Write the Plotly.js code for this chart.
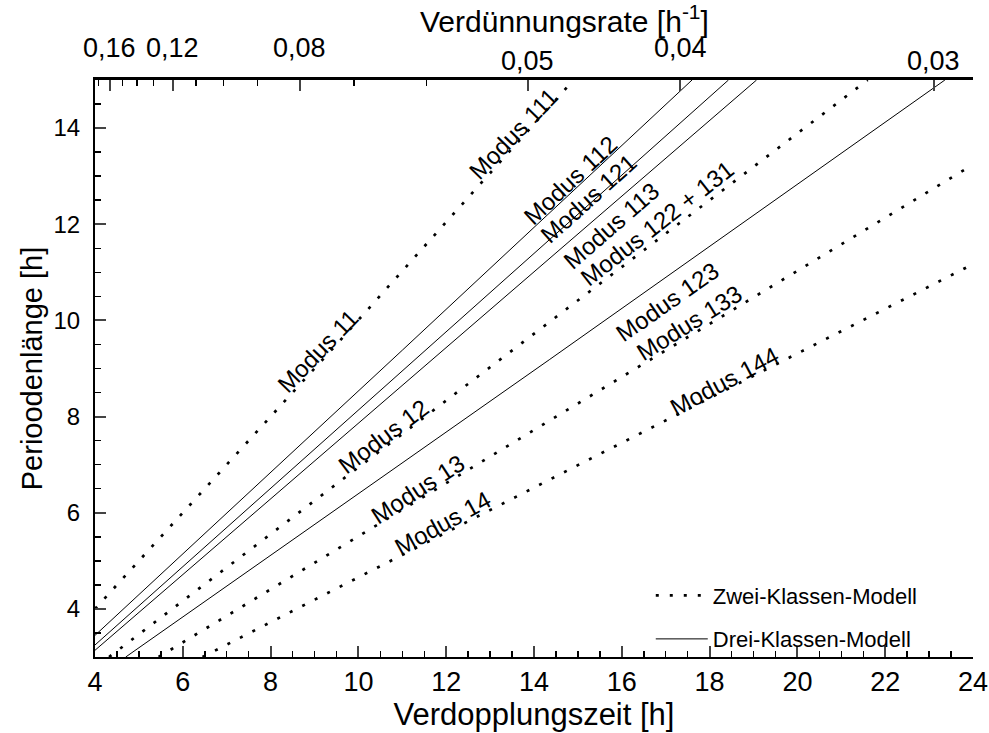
<!DOCTYPE html>
<html><head><meta charset="utf-8">
<script src="https://cdn.plot.ly/plotly-3.0.1.min.js"></script>
<style>html,body{margin:0;padding:0;background:#fff}</style>
</head><body>
<div id="chart" style="width:989px;height:733px"></div>
<script>
// ---- data ----
// Zwei-Klassen-Modell (dotted)
const m11_x = [4.0, 9.5, 14.9],  m11_y = [4.0, 9.5, 15.0];
const m12_x = [4.32, 14.0, 21.6], m12_y = [3.0, 9.72, 15.0];
const m13_x = [5.45, 14.0, 24.0], m13_y = [3.0, 7.72, 13.24];
const m14_x = [6.45, 15.0, 24.0], m14_y = [3.0, 6.99, 11.17];
// Drei-Klassen-Modell (solid)
const m112_x = [4.0, 11.0, 17.6],  m112_y = [3.45, 9.38, 15.0];
const m121_x = [4.0, 11.0, 18.43], m121_y = [3.25, 8.95, 15.0];
const m113_x = [4.0, 11.0, 19.07], m113_y = [3.14, 8.65, 15.0];
const m123_x = [4.7, 14.36, 23.36], m123_y = [3.0, 9.19, 15.0];

const legendNames = ['Zwei-Klassen-Modell', 'Drei-Klassen-Modell'];

// top axis: dilution rate D [1/h], position = ln2 / D
const topTickRates  = [0.17,0.16,0.15,0.14,0.13,0.12,0.11,0.10,0.09,0.08,0.07,0.06,0.05,0.04,0.03];
const topMajorRates = [0.16, 0.12, 0.08, 0.05, 0.04, 0.03];
const topMajorText  = ['0,16', '0,12', '0,08', '0,05', '0,04', '0,03'];

// curve labels
const labelText = ['Modus 11','Modus 111','Modus 112','Modus 121','Modus 113','Modus 122 + 131',
                   'Modus 12','Modus 13','Modus 14','Modus 123','Modus 133','Modus 144'];
const labelX = [9.09, 13.54, 14.82, 15.24, 15.77, 16.80, 10.57, 11.34, 11.91, 17.05, 17.55, 18.33];
const labelY = [9.37, 13.88, 12.91, 12.54, 11.97, 12.02, 7.58, 6.49, 5.78, 10.39, 9.95, 8.73];

// ---- styles / layout ----
const labelAngle = [-46, -46, -43, -42, -41, -38, -37, -33, -29, -35, -32, -28];
const topRowOffset = [0, 0, 0, 1, 0, 1];
const FA = '"Liberation Sans", Arial, sans-serif';

const dotted = {color:'#000', width:2.7, dash:'3px,11px'};
const solid = {color:'#000', width:1};

const traces = [];
function addTrace(x, y, line, legendName, grp){
  traces.push({type:'scatter', mode:'lines', x:x, y:y, line:line,
    name: legendName || '', showlegend: !!legendName, legendgroup: grp,
    xaxis:'x', yaxis:'y', hoverinfo:'skip'});
}
addTrace(m11_x, m11_y, dotted, legendNames[0], 'a');
addTrace(m12_x, m12_y, dotted, null, 'a');
addTrace(m13_x, m13_y, dotted, null, 'a');
addTrace(m14_x, m14_y, dotted, null, 'a');
addTrace(m112_x, m112_y, solid, legendNames[1], 'b');
addTrace(m121_x, m121_y, solid, null, 'b');
addTrace(m113_x, m113_y, solid, null, 'b');
addTrace(m123_x, m123_y, solid, null, 'b');
// invisible trace to activate top axis
traces.push({type:'scatter', mode:'lines', x:[4,24], y:[3,3], xaxis:'x2', yaxis:'y',
  line:{width:0}, showlegend:false, hoverinfo:'skip'});

const LN2 = Math.log(2);
const annotations = [];
labelText.forEach((t,i)=>{
  annotations.push({x:labelX[i], y:labelY[i], xref:'x', yref:'y', text:t, showarrow:false,
    textangle:labelAngle[i], font:{family:FA, size:24, color:'#000'}});
});
topMajorText.forEach((t,i)=>{
  annotations.push({x:LN2/topMajorRates[i], xref:'x', yref:'paper',
    y: 1 + (topRowOffset[i] ? 19 : 32)/577, yanchor:'middle', text:t, showarrow:false,
    font:{family:FA, size:27, color:'#000'}});
});
annotations.push({x:0.535, xref:'paper', yref:'paper', y:1+(80-19)/577, yanchor:'middle',
  text:'Verdünnungsrate [h<sup>-1</sup>]', showarrow:false, font:{family:FA, size:30, color:'#000'}});

const layout = {
  width:989, height:733,
  margin:{l:95, r:16, t:80, b:76, pad:0},
  paper_bgcolor:'#fff', plot_bgcolor:'#fff',
  showlegend:true,
  legend:{x:0.633, y:0.143, xanchor:'left', yanchor:'top', bgcolor:'rgba(0,0,0,0)',
    font:{family:FA, size:22, color:'#000'}, traceorder:'grouped', tracegroupgap:12, itemwidth:52},
  xaxis:{range:[4,24], tickmode:'linear', tick0:4, dtick:2, ticks:'inside', ticklen:11, tickwidth:2,
    showline:true, linewidth:2, linecolor:'#000', showgrid:false, zeroline:false,
    minor:{dtick:0.5, ticks:'inside', ticklen:6, tickwidth:1.5, tickcolor:'#000'},
    tickfont:{family:FA, size:27, color:'#000'}, ticklabelstandoff:0, ticklabeloverflow:'allow',
    title:{text:'Verdopplungszeit [h]', font:{family:FA, size:31, color:'#000'}, standoff:4}},
  xaxis2:{overlaying:'x', side:'top', range:[4,24], showline:true, linewidth:3, linecolor:'#000',
    tickmode:'array', tickvals: topMajorRates.map(r=>LN2/r), ticks:'inside', ticklen:11, tickwidth:2,
    showticklabels:false, showgrid:false, zeroline:false,
    minor:{tickmode:'array', tickvals: topTickRates.map(r=>LN2/r), ticks:'inside', ticklen:6, tickwidth:1.5, tickcolor:'#000'}},
  yaxis:{range:[3,15], tickmode:'linear', tick0:4, dtick:2, ticks:'inside', ticklen:11, tickwidth:2,
    showline:true, linewidth:2, linecolor:'#000', showgrid:false, zeroline:false,
    minor:{dtick:0.5, ticks:'inside', ticklen:6, tickwidth:1.5, tickcolor:'#000'},
    tickfont:{family:FA, size:24, color:'#000'}, ticklabelstandoff:8,
    title:{text:'Perioodenlänge [h]', font:{family:FA, size:29, color:'#000'}, standoff:2}},
  annotations:annotations
};
Plotly.newPlot('chart', traces, layout, {staticPlot:true, displayModeBar:false});
</script>
</body></html>
